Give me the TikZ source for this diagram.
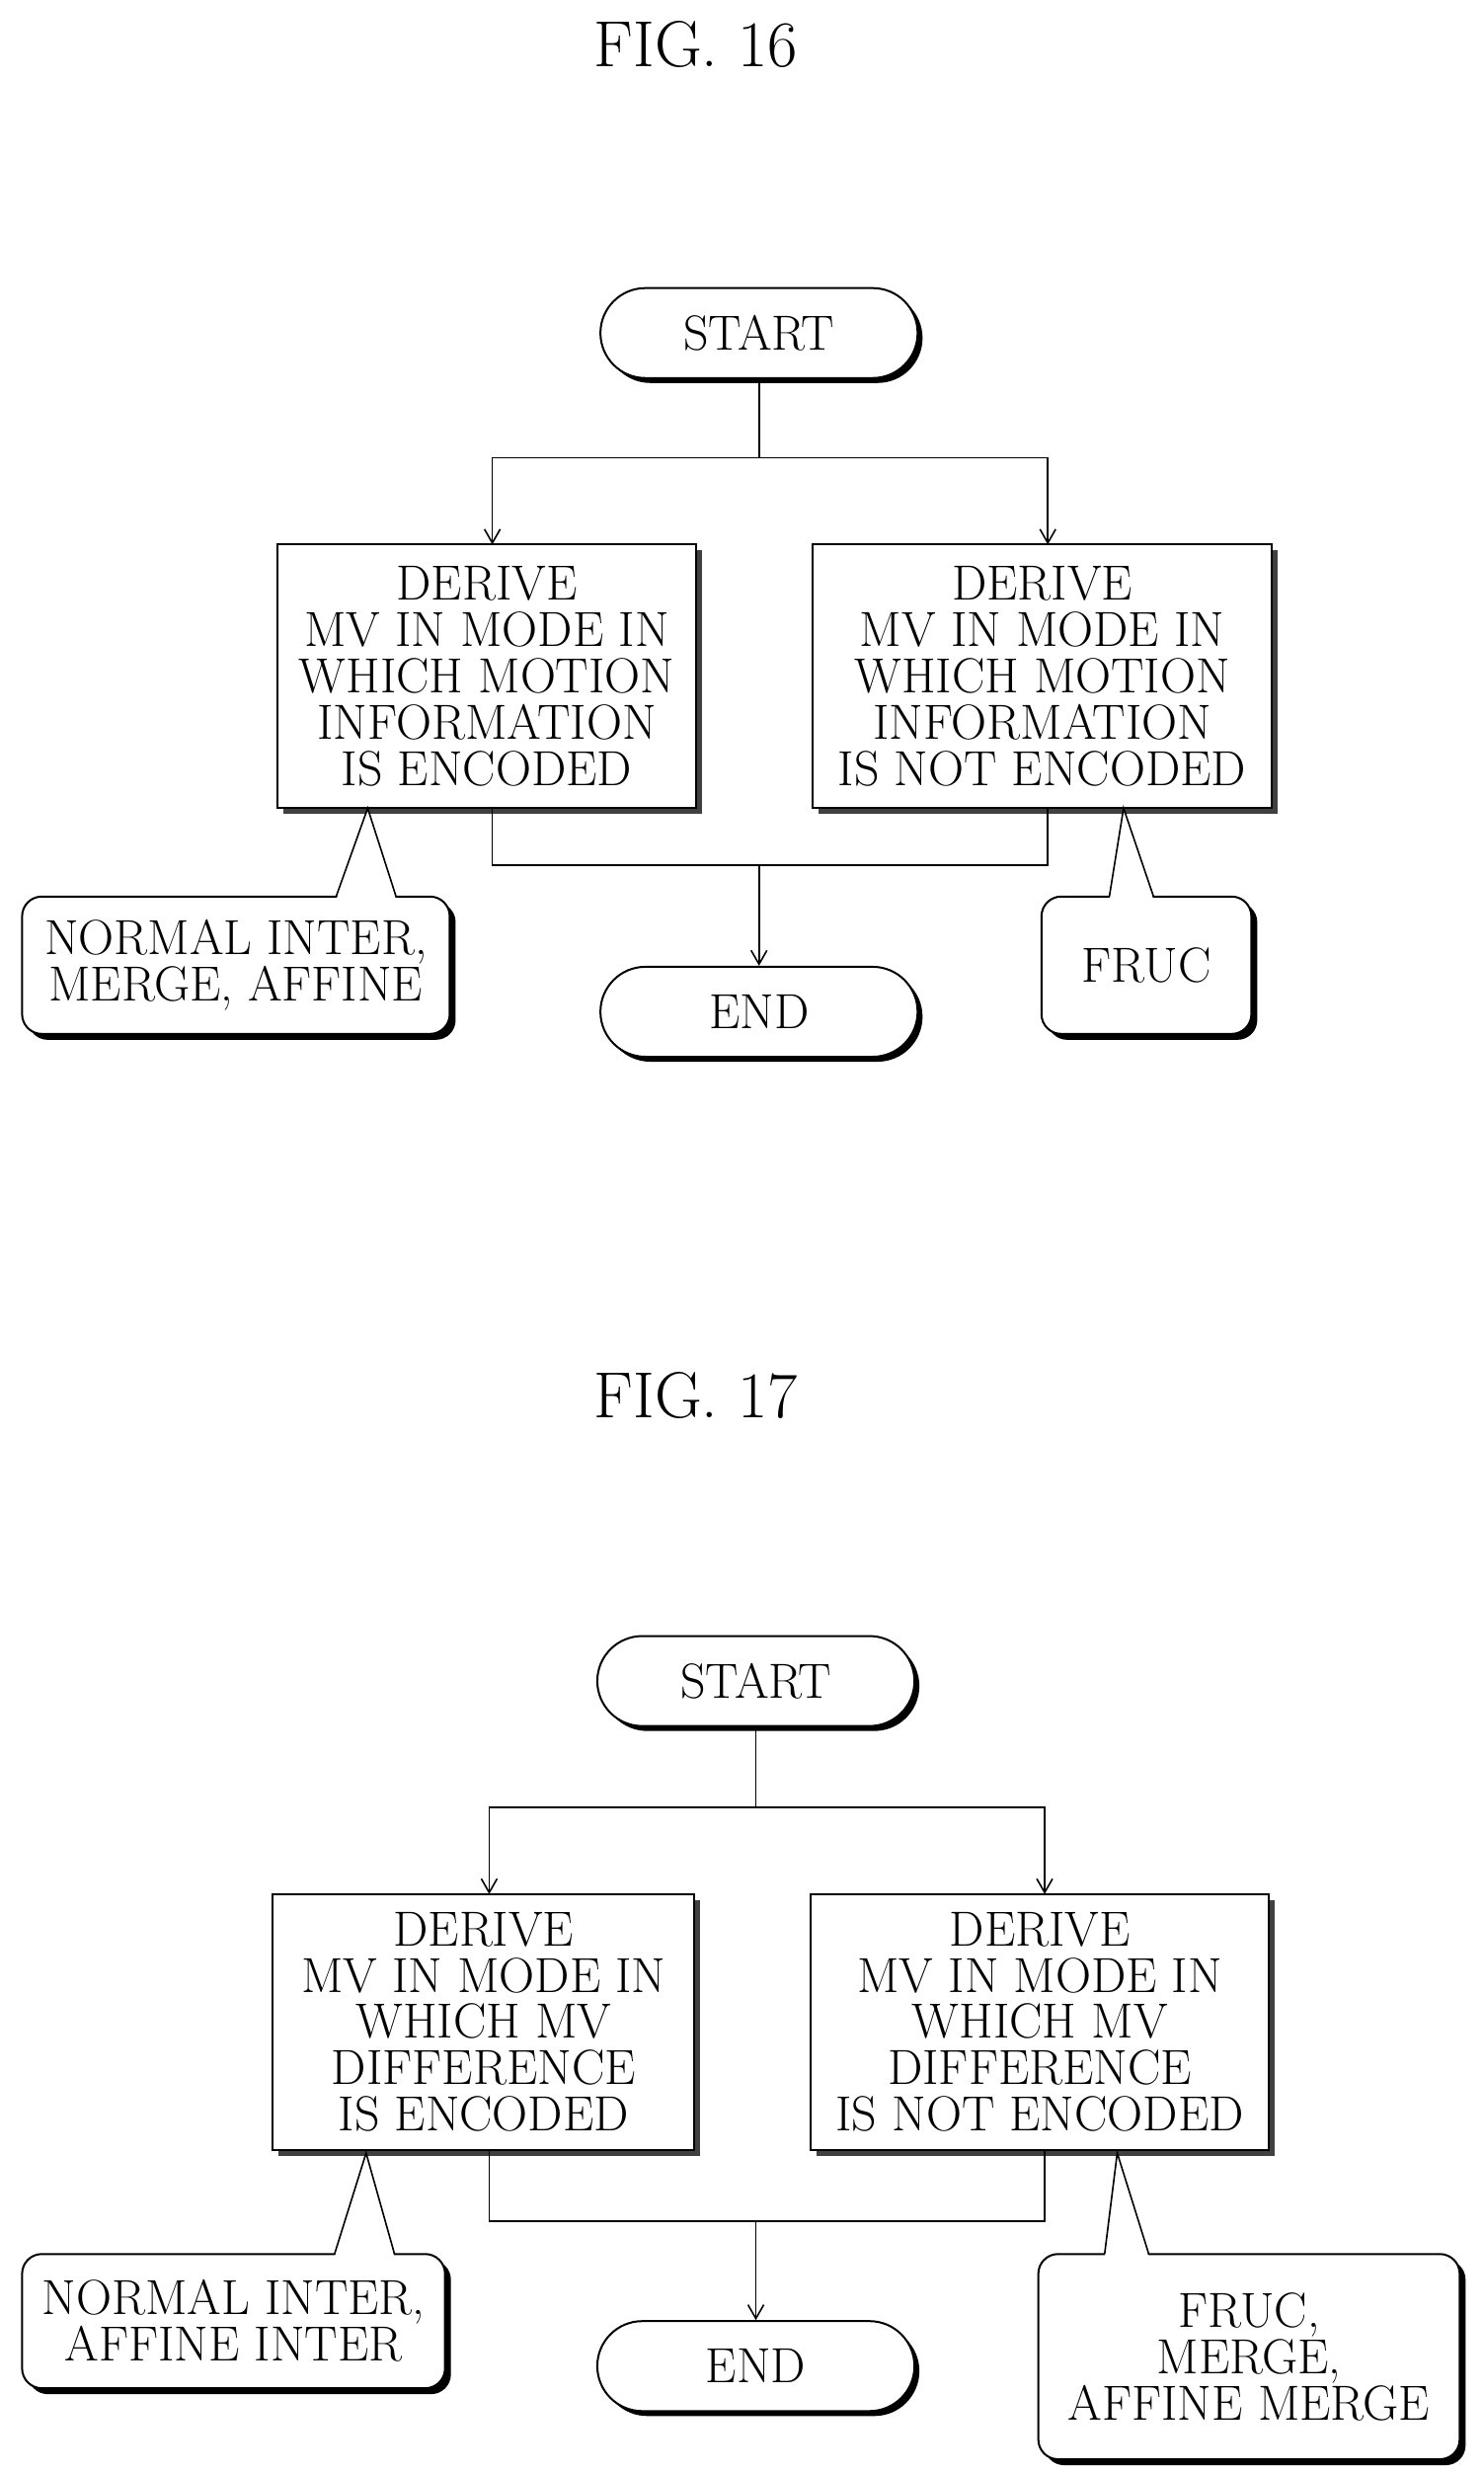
\documentclass[tikz,border=0pt]{standalone}
\usetikzlibrary{shapes.misc,arrows.meta,shadows}
\begin{document}
\begin{tikzpicture}[x=0.8pt,y=-0.8pt,
  txt/.style={font=\fontsize{25}{23.5}\selectfont,align=center,inner sep=0pt},
  term/.style={draw,line width=1pt,rounded rectangle,minimum width=201*0.8pt,minimum height=57*0.8pt,txt,
     drop shadow={shadow xshift=2.5pt,shadow yshift=-2.5pt,fill=black,opacity=1},fill=white},
  proc/.style={draw,line width=1pt,fill=white,txt,drop shadow={shadow xshift=3pt,shadow yshift=-3pt,fill=black!75,opacity=1}},
  call/.style={draw,line width=1pt,fill=white,rounded corners=10pt,txt,drop shadow={shadow xshift=3pt,shadow yshift=-3pt,fill=black,opacity=1}},
  ar/.style={-{Straight Barb[length=7pt,width=8pt]},line width=0.8pt},
  ln/.style={line width=0.8pt}]
\useasboundingbox (0,0) rectangle (940,1568);
\node[font=\fontsize{33}{35}\selectfont] (t16) at (441,28) {FIG. 16};
\node[font=\fontsize{33}{35}\selectfont] (t17) at (441,884) {FIG. 17};
% FIG 16
\node[term] (s1) at (481,211) {START};
\node[term] (e1) at (481,641) {END};
\node[proc,minimum width=265*0.8pt,minimum height=167*0.8pt] (a1) at (308.5,428.5) {DERIVE\\MV IN MODE IN\\WHICH MOTION\\INFORMATION\\IS ENCODED};
\node[proc,minimum width=291*0.8pt,minimum height=167*0.8pt] (b1) at (660.5,428.5) {DERIVE\\MV IN MODE IN\\WHICH MOTION\\INFORMATION\\IS NOT ENCODED};
\coordinate (j1) at (481,290);
\coordinate (k1) at (481,548);
\draw[ln] (s1.south) -- (j1);
\draw[ar] (j1) -| (312,345);
\draw[ar] (j1) -| (664,345);
\draw[ln] (312,512) |- (k1) -| (664,512);
\draw[ar] (k1) -- (e1.north);
\node[call,minimum width=271*0.8pt,minimum height=87*0.8pt] (c1) at (149.5,611.5) {NORMAL INTER,\\MERGE, AFFINE};
\node[call,minimum width=133*0.8pt,minimum height=87*0.8pt] (d1) at (726.5,611.5) {FRUC};
\fill[white] (213,570) -- (233,514) -- (251,570) -- cycle;
\draw[ln] (213,568) -- (233,512) -- (251,568);
\fill[white] (703,570) -- (712,514) -- (731,570) -- cycle;
\draw[ln] (703,568) -- (712,512) -- (731,568);
% FIG 17
\node[term] (s2) at (479,1065) {START};
\node[term] (e2) at (479,1499) {END};
\node[proc,minimum width=267*0.8pt,minimum height=162*0.8pt] (a2) at (306.5,1281) {DERIVE\\MV IN MODE IN\\WHICH MV\\DIFFERENCE\\IS ENCODED};
\node[proc,minimum width=290*0.8pt,minimum height=162*0.8pt] (b2) at (659,1281) {DERIVE\\MV IN MODE IN\\WHICH MV\\DIFFERENCE\\IS NOT ENCODED};
\coordinate (j2) at (479,1145);
\coordinate (k2) at (479,1407);
\draw[ln] (s2.south) -- (j2);
\draw[ar] (j2) -| (310,1200);
\draw[ar] (j2) -| (662,1200);
\draw[ln] (310,1362) |- (k2) -| (662,1362);
\draw[ar] (k2) -- (e2.north);
\node[call,minimum width=268*0.8pt,minimum height=85*0.8pt] (c2) at (148,1470.5) {NORMAL INTER,\\AFFINE INTER};
\node[call,minimum width=267*0.8pt,minimum height=130*0.8pt] (d2) at (791.5,1493) {FRUC,\\MERGE,\\AFFINE MERGE};
\fill[white] (212,1430) -- (232,1366) -- (250,1430) -- cycle;
\draw[ln] (212,1428) -- (232,1364) -- (250,1428);
\fill[white] (700,1430) -- (708,1366) -- (728,1430) -- cycle;
\draw[ln] (700,1428) -- (708,1364) -- (728,1428);
\end{tikzpicture}
\end{document}
